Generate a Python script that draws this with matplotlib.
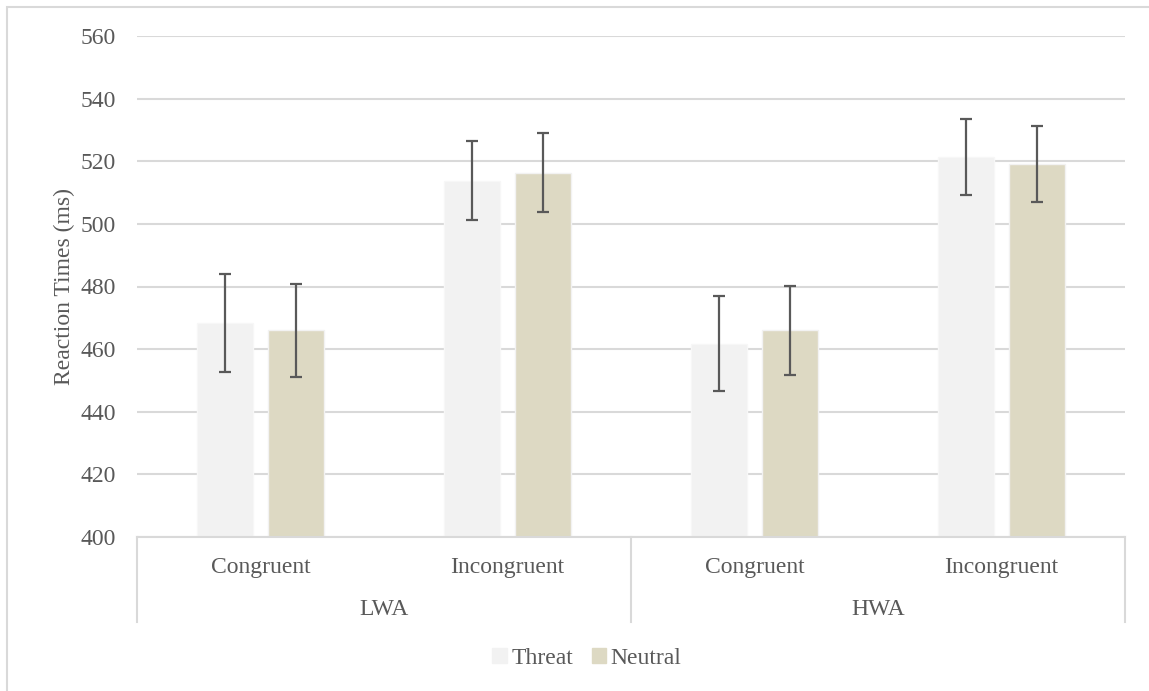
import numpy as np
import matplotlib
matplotlib.use('Agg')
import matplotlib.pyplot as plt
from matplotlib import rcParams
from matplotlib.patches import Patch, Rectangle
import matplotlib.transforms as mtransforms

# data
groups = ['LWA', 'HWA']
conditions = ['Congruent', 'Incongruent', 'Congruent', 'Incongruent']
threat = [468.3, 513.8, 461.7, 521.4]
threat_err = [15.7, 12.7, 15.2, 12.2]
neutral = [466.0, 516.4, 466.0, 519.1]
neutral_err = [14.8, 12.5, 14.3, 12.1]

rcParams['font.family'] = ['Liberation Serif', 'DejaVu Serif']
rcParams['font.size'] = 17
txt = '#595959'
grid = '#D9D9D9'

fig = plt.figure(figsize=(11.49, 6.91), dpi=100)
ax = fig.add_axes([137/1149, 1-537/691, (1125-137)/1149, (537-36)/691])

x = np.arange(len(conditions))
w = 0.225
off = 0.143
ax.bar(x-off, threat, w, color='#F2F2F2', edgecolor='#F7F7F7', lw=1, zorder=2)
ax.bar(x+off, neutral, w, color='#DDD9C3', edgecolor='#F2F2F2', lw=1, zorder=2)
ax.errorbar(x-off, threat, yerr=threat_err, fmt='none', ecolor=txt, elinewidth=1.6, capsize=4, capthick=1.6, zorder=3)
ax.errorbar(x+off, neutral, yerr=neutral_err, fmt='none', ecolor=txt, elinewidth=1.6, capsize=4, capthick=1.6, zorder=3)

ax.set_xlim(-0.5, 3.5)
ax.set_ylim(400, 560)
ax.set_yticks(np.arange(400, 561, 20))
ax.yaxis.grid(True, color=grid, lw=1.5, zorder=0)
ax.set_axisbelow(True)
ax.tick_params(axis='y', length=0, pad=15, labelcolor=txt)
ax.set_xticks([])
for s in ['top', 'right', 'left']:
    ax.spines[s].set_visible(False)
ax.spines['bottom'].set_color(grid)
ax.spines['bottom'].set_linewidth(1.5)
ax.set_ylabel('Reaction Times (ms)', color=txt, labelpad=4)

# two-level category axis
tr = mtransforms.blended_transform_factory(ax.transData, ax.transAxes)
for i, c in enumerate(conditions):
    ax.text(x[i], -0.06, c, transform=tr, ha='center', va='center', color=txt)
for j, g in enumerate(groups):
    ax.text(x[2*j]+0.5, -0.145, g, transform=tr, ha='center', va='center', color=txt)
for xb in [-0.5, 1.5, 3.5]:
    ax.plot([xb, xb], [0, -0.17], transform=tr, color=grid, lw=1.5, clip_on=False)

handles = [Patch(color='#F2F2F2', label='Threat'), Patch(color='#DDD9C3', label='Neutral')]
leg = fig.legend(handles=handles, loc='center', bbox_to_anchor=(587/1149, 1-658/691), ncol=2,
                 frameon=False, handlelength=0.6, handleheight=0.6, handletextpad=0.2, columnspacing=0.8)
for t in leg.get_texts():
    t.set_color(txt)

# chart border
fig.patches.append(Rectangle((7/1149, -0.1), 1.2, 1-7/691+0.1, transform=fig.transFigure,
                             fill=False, edgecolor=grid, lw=1.5))

plt.savefig('out.png', dpi=100)
